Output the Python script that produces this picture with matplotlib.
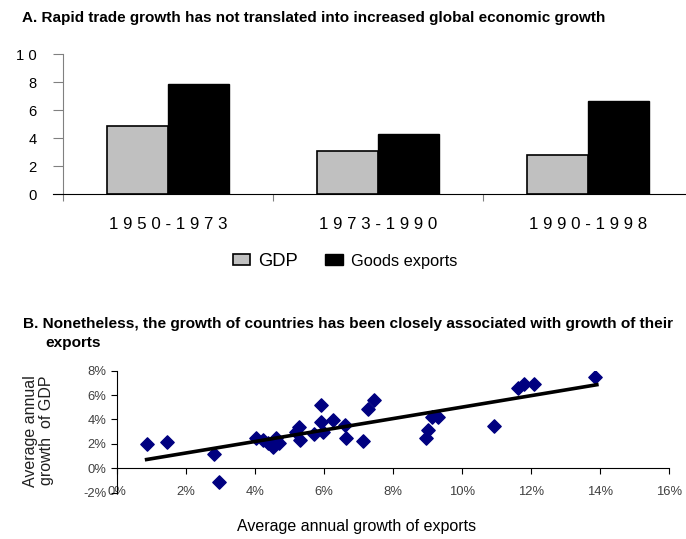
import matplotlib
matplotlib.use('Agg')
import matplotlib.pyplot as plt
from matplotlib.patches import Patch

plt.rcParams['font.family'] = ['Liberation Sans', 'DejaVu Sans']

# panel A: average annual growth (%)
periods = ['1 9 5 0 - 1 9 7 3', '1 9 7 3 - 1 9 9 0', '1 9 9 0 - 1 9 9 8']
gdp_growth = [4.9, 3.1, 2.8]
export_growth = [7.9, 4.3, 6.7]
a_yticks = [0, 2, 4, 6, 8, 10]
a_yticklabels = ['0', '2', '4', '6', '8', '1 0']

# panel B: country averages (% per year)
exp_growth = [0.85, 1.45, 2.8, 2.95, 4.01, 4.22, 4.37, 4.51, 4.61, 4.70,
              5.18, 5.28, 5.31, 5.71, 5.89, 5.89, 5.95, 6.25, 6.61, 6.64,
              7.11, 7.26, 7.45, 8.94, 9.02, 9.13, 9.31, 10.92, 11.62, 11.78,
              12.07, 13.86]
gdp_country = [2.0, 2.15, 1.15, -1.15, 2.5, 2.3, 2.05, 1.75, 2.45, 2.1,
               3.0, 3.4, 2.3, 2.85, 5.15, 3.8, 3.0, 3.95, 3.55, 2.45,
               2.2, 4.9, 5.6, 2.45, 3.15, 4.2, 4.2, 3.45, 6.6, 6.9,
               6.9, 7.45]
trend_x = [0.85, 13.9]
trend_y = [0.72, 6.85]

W, H = 686, 539
fig = plt.figure(figsize=(W / 100, H / 100), dpi=100)

# ---------- panel A ----------
ax1 = fig.add_axes([63 / W, 1 - 194.3 / H, 630 / W, 140 / H])
centers = [0.5, 1.5, 2.5]
bw = 0.29
ax1.bar([c - bw / 2 for c in centers], gdp_growth, width=bw, color='#C0C0C0',
        edgecolor='black', linewidth=1.2, label='GDP')
ax1.bar([c + bw / 2 for c in centers], export_growth, width=bw, color='black',
        edgecolor='black', linewidth=1.0, label='Goods exports')
ax1.set_xlim(0, 3)
ax1.set_ylim(0, 10)
ax1.spines['top'].set_visible(False)
ax1.spines['right'].set_visible(False)
ax1.spines['left'].set_color('#808080')
ax1.spines['bottom'].set_color('black')
ax1.set_yticks(a_yticks)
ax1.set_yticklabels(a_yticklabels, fontsize=10.6)
ax1.tick_params(axis='y', length=7, color='#808080', pad=12)
ax1.set_xticks([0, 1, 2, 3])
ax1.set_xticklabels([])
ax1.tick_params(axis='x', which='major', length=5, color='#808080', direction='out')
ax1.set_xticks(centers, minor=True)
ax1.set_xticklabels(periods, minor=True, fontsize=12.2)
ax1.tick_params(axis='x', which='minor', length=0, pad=16)
# horizontal baseline continues a bit left of the y axis
ax1.spines['bottom'].set_bounds(-0.05, 3)

# no narrow face installed, so the title is set a little smaller to keep its width
fig.text(22 / W, 1 - 21.7 / H,
         'A. Rapid trade growth has not translated into increased global economic growth',
         fontsize=11.0, fontweight='bold', va='baseline',
         family=['Liberation Sans Narrow', 'Liberation Sans'])

handles = [Patch(facecolor='#C0C0C0', edgecolor='black', linewidth=1.2),
           Patch(facecolor='black', edgecolor='black')]
leg = fig.legend(handles, ['GDP', 'Goods exports'], loc='center',
                 bbox_to_anchor=(345 / W, 1 - 261.5 / H), ncol=2, frameon=False,
                 fontsize=13.2, handlelength=0.95, handleheight=0.5,
                 handletextpad=0.45, columnspacing=1.5)
leg.get_texts()[1].set_fontsize(11.8)

# ---------- panel B ----------
fig.text(23 / W, 1 - 328.3 / H,
         'B. Nonetheless, the growth of countries has been closely associated with growth of their',
         fontsize=11.05, fontweight='bold', va='baseline')
fig.text(45.5 / W, 1 - 347.3 / H, 'exports', fontsize=11.05, fontweight='bold', va='baseline')

ax2 = fig.add_axes([117.3 / W, 1 - 492.7 / H, 552 / W, 122 / H])
ax2.scatter(exp_growth, gdp_country, marker='D', s=46, color='#000080', zorder=3)
ax2.plot(trend_x, trend_y, color='black', linewidth=2.6, zorder=4)
ax2.set_xlim(0, 16)
ax2.set_ylim(-2, 8)
ax2.spines['top'].set_visible(False)
ax2.spines['right'].set_visible(False)
ax2.spines['bottom'].set_position(('data', 0))
ax2.set_xticks(range(0, 17, 2))
ax2.tick_params(axis='x', length=4, labelbottom=False)
ax2.set_yticks(range(-2, 9, 2))
ax2.set_yticklabels([f'{v}%' for v in range(-2, 9, 2)], fontsize=9.4, color='#404040')
ax2.tick_params(axis='y', length=4, pad=4)

sec = ax2.secondary_xaxis('bottom')
sec.spines['bottom'].set_visible(False)
sec.set_xticks(range(0, 17, 2))
sec.set_xticklabels([f'{v}%' for v in range(0, 17, 2)], fontsize=9.4, color='#404040')
sec.tick_params(axis='x', length=0, pad=-5)

ax2.set_ylabel('Average annual\ngrowth  of GDP', fontsize=11.5, color='#202020',
               linespacing=1.1)
ax2.yaxis.set_label_coords(-0.115, 0.508)
ax2.set_xlabel('Average annual growth of exports', fontsize=11.5)
ax2.xaxis.set_label_coords(0.434, -0.214)

fig.savefig('out.png', dpi=100)
